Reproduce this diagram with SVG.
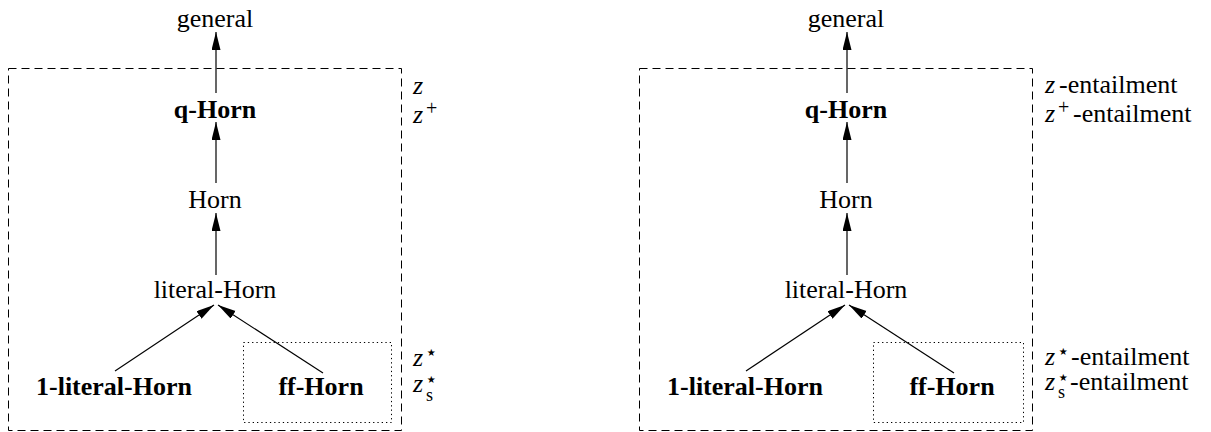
<svg xmlns="http://www.w3.org/2000/svg" width="1211" height="432" viewBox="0 0 1211 432">
<style>
.t{font-family:'Liberation Serif','Times New Roman',serif;font-size:26px;fill:#000;text-anchor:middle}
.b{font-weight:bold}
.dash{fill:none;stroke:#000;stroke-width:1;stroke-dasharray:8 5}
.dot{fill:none;stroke:#000;stroke-width:1;stroke-dasharray:1.3 3}
.e{fill:none;stroke:#000;stroke-width:1.2;marker-end:url(#ah)}
</style>
<defs>
<marker id="ah" markerUnits="userSpaceOnUse" markerWidth="18" markerHeight="10" refX="18" refY="4.5" orient="auto">
<path d="M0,0 L18,4.5 L0,9 z" fill="#000"/>
</marker>
</defs>

<!-- left diagram -->
<g id="left-box-z"><rect class="dash" x="8.5" y="68.5" width="393" height="362"/></g>
<g id="left-box-zstar"><rect class="dot" x="243.5" y="342.5" width="148" height="80"/></g>
<g id="l-general"><text class="t" x="215" y="27">general</text></g>
<g id="l-qhorn"><text class="t b" x="215" y="118">q-Horn</text></g>
<g id="l-horn"><text class="t" x="215" y="208">Horn</text></g>
<g id="l-literal"><text class="t" x="215" y="298">literal-Horn</text></g>
<g id="l-1literal"><text class="t b" x="114" y="395">1-literal-Horn</text></g>
<g id="l-ff"><text class="t b" x="321" y="395">ff-Horn</text></g>
<g id="l-labels" font-family="'Liberation Serif','Times New Roman',serif" font-size="26" fill="#000">
<text x="413" y="94" font-style="italic">z</text>
<text x="413" y="123"><tspan font-style="italic">z</tspan><tspan x="426" y="115" font-size="20">+</tspan></text>
<text x="413" y="366"><tspan font-style="italic">z</tspan><tspan x="425" y="359" font-size="20" font-family="'DejaVu Sans',sans-serif">⋆</tspan></text>
<text x="413" y="392"><tspan font-style="italic">z</tspan><tspan x="425" y="386" font-size="20" font-family="'DejaVu Sans',sans-serif">⋆</tspan><tspan x="426" y="401" font-size="18">s</tspan></text>
</g>

<!-- right diagram -->
<g id="right-box-z"><rect class="dash" x="639.5" y="68.5" width="393" height="362"/></g>
<g id="right-box-zstar"><rect class="dot" x="873.5" y="342.5" width="150" height="80"/></g>
<g id="r-general"><text class="t" x="846" y="27">general</text></g>
<g id="r-qhorn"><text class="t b" x="846" y="118">q-Horn</text></g>
<g id="r-horn"><text class="t" x="846" y="208">Horn</text></g>
<g id="r-literal"><text class="t" x="846" y="298">literal-Horn</text></g>
<g id="r-1literal"><text class="t b" x="745" y="395">1-literal-Horn</text></g>
<g id="r-ff"><text class="t b" x="952" y="395">ff-Horn</text></g>
<g id="r-labels" font-family="'Liberation Serif','Times New Roman',serif" font-size="26" fill="#000">
<text x="1045" y="93"><tspan font-style="italic">z</tspan><tspan x="1059">-entailment</tspan></text>
<text x="1045" y="122"><tspan font-style="italic">z</tspan><tspan x="1058" y="114" font-size="20">+</tspan><tspan x="1073" y="122">-entailment</tspan></text>
<text x="1045" y="365"><tspan font-style="italic">z</tspan><tspan x="1057" y="358" font-size="20" font-family="'DejaVu Sans',sans-serif">⋆</tspan><tspan x="1071" y="365">-entailment</tspan></text>
<text x="1045" y="390"><tspan font-style="italic">z</tspan><tspan x="1057" y="384" font-size="20" font-family="'DejaVu Sans',sans-serif">⋆</tspan><tspan x="1058" y="398" font-size="18">s</tspan><tspan x="1070" y="390">-entailment</tspan></text>
</g>

<g id="connectors">
<line class="e" x1="216" y1="93" x2="216" y2="32"/>
<line class="e" x1="216" y1="183" x2="216" y2="122"/>
<line class="e" x1="216" y1="275" x2="216" y2="213"/>
<line class="e" x1="115" y1="371" x2="214" y2="305"/>
<line class="e" x1="323" y1="373" x2="218" y2="305"/>
<line class="e" x1="847" y1="93" x2="847" y2="32"/>
<line class="e" x1="847" y1="183" x2="847" y2="122"/>
<line class="e" x1="847" y1="275" x2="847" y2="213"/>
<line class="e" x1="746" y1="371" x2="845" y2="305"/>
<line class="e" x1="954" y1="373" x2="849" y2="305"/>
</g>
</svg>
